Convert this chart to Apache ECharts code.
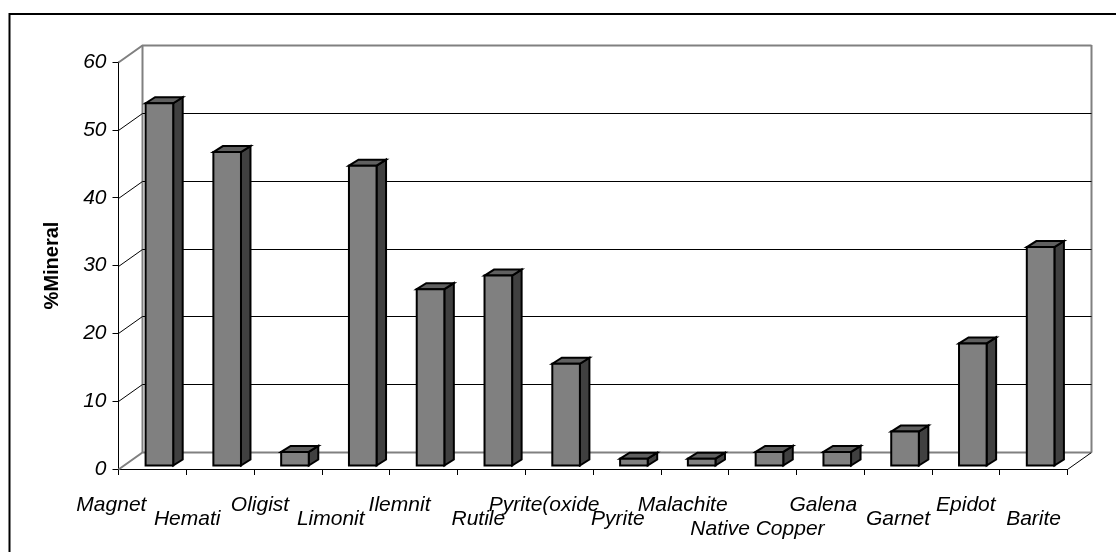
<!DOCTYPE html>
<html><head><meta charset="utf-8">
<style>html,body{margin:0;padding:0;background:#fff}#c{width:1116px;height:552px}</style>
<script src="https://cdn.jsdelivr.net/npm/echarts@6/dist/echarts.min.js"></script>
</head><body><div id="c"></div>
<script>
const categories = ['Magnet','Hemati','Oligist','Limonit','Ilemnit','Rutile','Pyrite(oxide','Pyrite','Malachite','Native Copper','Galena','Garnet','Epidot','Barite'];
const values = [53.4,46.2,2,44.2,26,28,15,1,1,2,2,5,18,32.2];
const yTicks = [0,10,20,30,40,50,60];
const labelRow = [0,1,0,1,0,1,0,1,0,2,0,1,0,1];
const labelShift = [41,33,28,25,24,13,15,9,12,5,7,0,0,0];

const chart = echarts.init(document.getElementById('c'));
const DX=24, DY=-17, BDX=9.5, BDY=-6, BW=27.6, BOX=7, BOY=-3.5;
const rowPad=[20,34,44];
const font='"Liberation Sans",Arial,sans-serif';

function wall(params, api){
  const v=api.value(0);
  const a=api.coord([0,v]);
  const cs=params.coordSys;
  const x0=cs.x, x1=cs.x+cs.width, y=Math.round(a[1])+0.5;
  const grey=(v===0||v===60);
  const style={stroke:grey?'#808080':'#000',lineWidth:grey?2:1,fill:null};
  const children=[{type:'polyline',shape:{points:[[x0,y],[x0+DX,y+DY],[x1+DX,y+DY]]},style}];
  if(v===0){
    children.push({type:'line',shape:{x1:x1,y1:y,x2:x1+DX,y2:y+DY},style:{stroke:'#000',lineWidth:1}});
    children.push({type:'line',shape:{x1:x0+DX,y1:cs.y+DY,x2:x0+DX,y2:y+DY},style:{stroke:'#808080',lineWidth:2}});
    children.push({type:'line',shape:{x1:x1+DX,y1:cs.y+DY,x2:x1+DX,y2:y+DY},style:{stroke:'#808080',lineWidth:2}});
  }
  return {type:'group',silent:true,children};
}
function bar(params, api){
  const i=api.value(0), v=api.value(1);
  const top=api.coord([i,v]), base=api.coord([i,0]);
  const x=top[0]+BOX-BW/2, xr=x+BW, yt=top[1]+BOY, yb=base[1]+BOY;
  const s={stroke:'#000',lineWidth:2,lineJoin:'miter'};
  return {type:'group',children:[
    {type:'polygon',shape:{points:[[xr,yt],[xr+BDX,yt+BDY],[xr+BDX,yb+BDY],[xr,yb]]},style:{...s,fill:'#404040'}},
    {type:'polygon',shape:{points:[[x,yt],[x+BDX,yt+BDY],[xr+BDX,yt+BDY],[xr,yt]]},style:{...s,fill:'#606060'}},
    {type:'rect',shape:{x:x,y:yt,width:BW,height:yb-yt},style:{...s,fill:'#808080'}}
  ]};
}
chart.setOption({
  animation:false,
  backgroundColor:'#fff',
  graphic:[{type:'polyline',shape:{points:[[9.5,552],[9.5,14],[1116,14]]},style:{fill:null,stroke:'#000',lineWidth:2},z:-1}],
  grid:{left:118.5,top:62,width:949,height:407,containLabel:false,outerBoundsMode:'none'},
  xAxis:{type:'category',data:categories.map((c,i)=>({value:c,textStyle:{padding:[rowPad[labelRow[i]],labelShift[i]*2,0,0]}})),
    boundaryGap:true,
    axisLine:{lineStyle:{color:'#000',width:1}},
    axisTick:{show:true,length:6,inside:false,lineStyle:{color:'#000',width:1}},
    axisLabel:{interval:0,hideOverlap:false,fontFamily:font,fontStyle:'italic',fontSize:21,color:'#000',margin:6,verticalAlign:'top'},
    splitLine:{show:false}},
  yAxis:{type:'value',min:0,max:60,interval:10,name:'%Mineral',nameLocation:'middle',nameGap:56,
    nameTextStyle:{fontFamily:font,fontWeight:'bold',fontSize:20,color:'#000'},
    axisLine:{show:true,lineStyle:{color:'#000',width:1}},
    axisTick:{show:true,length:6,lineStyle:{color:'#000',width:1}},
    axisLabel:{fontFamily:font,fontStyle:'italic',fontSize:21,color:'#000',margin:12,padding:[2,0,0,0]},
    splitLine:{show:false}},
  series:[
    {type:'custom',coordinateSystem:'cartesian2d',renderItem:wall,clip:false,z:1,silent:true,encode:{y:0},data:yTicks.map(v=>[v])},
    {type:'custom',coordinateSystem:'cartesian2d',renderItem:bar,clip:false,z:2,encode:{x:0,y:1},data:values.map((v,i)=>[i,v])}
  ]
});
</script></body></html>
